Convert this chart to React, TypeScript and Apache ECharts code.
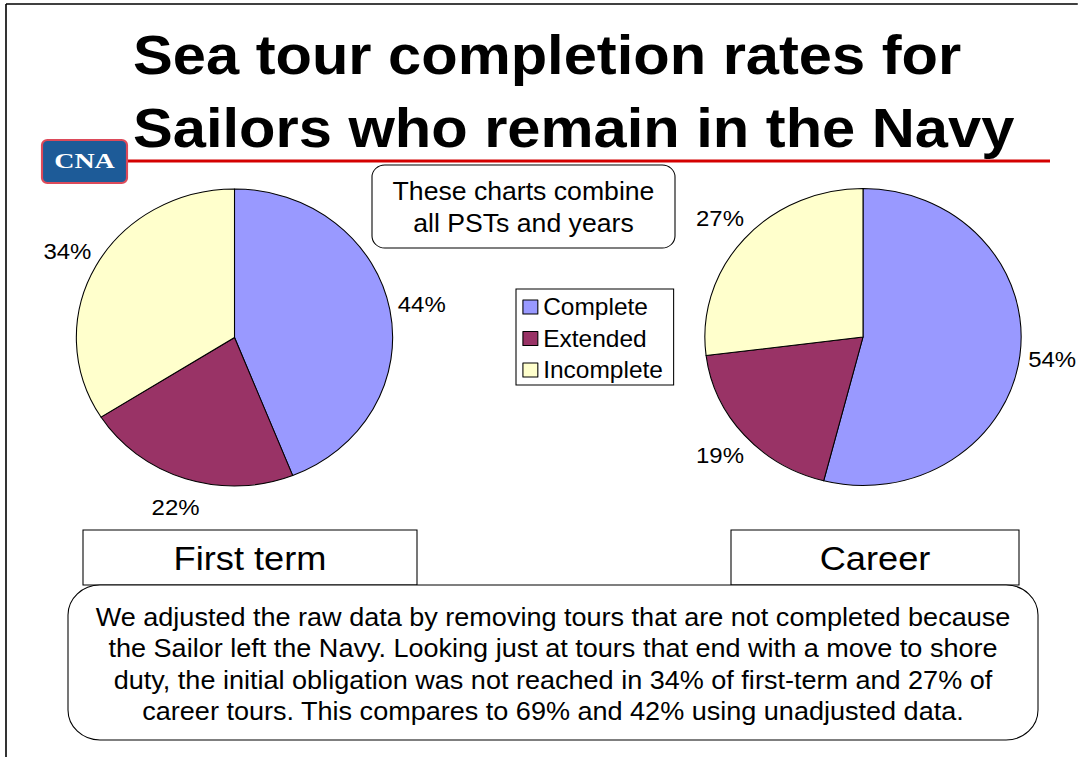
import React, { useEffect, useRef } from "react";
import * as echarts from "echarts";

const categories = ["Complete", "Extended", "Incomplete"];
const firstTermValues = [44, 22, 34];
const careerValues = [54, 19, 27];
const unadjustedIncomplete = [69, 42];
const groupTitles = ["First term", "Career"];
const sliceColors = ["#9999ff", "#993366", "#ffffcc"];

const W = 1078;
const H = 757;
const SX = 1.065; // horizontal stretch of the slide picture
const u = (x: number) => x / SX;
const FONT = '"Liberation Sans", Arial, Helvetica, sans-serif';

function pieSeries(values: number[], cx: number, cy: number) {
  const data = categories.map((name, i) => ({
    name,
    value: values[i],
    itemStyle: { color: sliceColors[i] },
  }));
  return [
    {
      type: "pie",
      center: [u(cx), cy],
      radius: 148.5,
      startAngle: 90,
      clockwise: true,
      silent: true,
      label: { show: false },
      labelLine: { show: false },
      emphasis: { disabled: true },
      itemStyle: { borderColor: "#000", borderWidth: 1 },
      data,
    },
    {
      type: "pie",
      center: [u(cx), cy],
      radius: [148.5, 203.5],
      startAngle: 90,
      clockwise: true,
      silent: true,
      emphasis: { disabled: true },
      itemStyle: { color: "rgba(0,0,0,0)", borderWidth: 0 },
      label: {
        show: true,
        position: "inside",
        formatter: "{c}%",
        color: "#000",
        fontSize: 22.5,
        fontFamily: FONT,
      },
      labelLine: { show: false },
      data: categories.map((name, i) => ({
        name,
        value: values[i],
        itemStyle: { color: "rgba(0,0,0,0)" },
      })),
    },
  ];
}

export default function App() {
  const ref = useRef<HTMLDivElement>(null);

  useEffect(() => {
    document.body.style.margin = "0";
    const chart = echarts.init(ref.current!, undefined, { renderer: "svg" });

    const note =
      "We adjusted the raw data by removing tours that are not completed because\n" +
      "the Sailor left the Navy. Looking just at tours that end with a move to shore\n" +
      `duty, the initial obligation was not reached in ${firstTermValues[2]}% of first-term and ${careerValues[2]}% of\n` +
      `career tours. This compares to ${unadjustedIncomplete[0]}% and ${unadjustedIncomplete[1]}% using unadjusted data.`;

    chart.setOption({
      animation: false,
      backgroundColor: "#fff",
      textStyle: { fontFamily: FONT },
      legend: {
        orient: "vertical",
        left: u(516),
        top: 289,
        data: categories,
        selectedMode: false,
        icon: "rect",
        itemWidth: 14,
        itemHeight: 14,
        itemGap: 7.5,
        padding: [6, 10, 3, 6],
        borderColor: "#000",
        borderWidth: 1,
        itemStyle: { borderColor: "#000", borderWidth: 1 },
        textStyle: { fontSize: 23, color: "#000", fontFamily: FONT, lineHeight: 24 },
      },
      series: [
        ...pieSeries(firstTermValues, 234.5, 337.5),
        ...pieSeries(careerValues, 863, 337),
      ],
      graphic: [
        // slide border
        { type: "line", shape: { x1: u(6), y1: 4, x2: u(6), y2: H }, style: { stroke: "#000", lineWidth: 1.5 } },
        { type: "line", shape: { x1: u(6), y1: 4, x2: u(W), y2: 4 }, style: { stroke: "#000", lineWidth: 1.5 } },
        // title
        {
          type: "text",
          x: u(133),
          y: 55,
          style: {
            text: "Sea tour completion rates for",
            font: `bold 56px ${FONT}`,
            fill: "#000",
            align: "left",
            verticalAlign: "middle",
          },
        },
        {
          type: "text",
          x: u(133),
          y: 127.8,
          style: {
            text: "Sailors who remain in the Navy",
            font: `bold 56px ${FONT}`,
            fill: "#000",
            align: "left",
            verticalAlign: "middle",
          },
        },
        // red rule
        { type: "line", shape: { x1: u(128), y1: 161, x2: u(1050), y2: 161 }, style: { stroke: "#d40000", lineWidth: 3 } },
        // logo
        {
          type: "rect",
          shape: { x: u(42), y: 140, width: u(127) - u(42), height: 43, r: 5 },
          style: { fill: "#1d5b98", stroke: "#dc4a5a", lineWidth: 2 },
        },
        {
          type: "text",
          x: u(84.5),
          y: 161,
          scaleX: 1.25,
          style: {
            text: "CNA",
            font: 'bold 21px "Liberation Serif", "Times New Roman", serif',
            fill: "#fff",
            align: "center",
            verticalAlign: "middle",
          },
        },
        // note box
        {
          type: "rect",
          shape: { x: u(372), y: 165, width: u(675) - u(372), height: 83, r: 12 },
          style: { fill: "#fff", stroke: "#000", lineWidth: 1 },
        },
        {
          type: "text",
          x: u(523.5),
          y: 207.2,
          style: {
            text: "These charts combine\nall PSTs and years",
            font: `25px ${FONT}`,
            lineHeight: 32,
            fill: "#000",
            align: "center",
            verticalAlign: "middle",
          },
        },
        // group title boxes
        {
          type: "rect",
          shape: { x: u(83), y: 530, width: u(417) - u(83), height: 55 },
          style: { fill: "#fff", stroke: "#000", lineWidth: 1 },
        },
        {
          type: "text",
          x: u(250),
          y: 557.5,
          style: { text: groupTitles[0], font: `34px ${FONT}`, fill: "#000", align: "center", verticalAlign: "middle" },
        },
        {
          type: "rect",
          shape: { x: u(731), y: 530, width: u(1019) - u(731), height: 55 },
          style: { fill: "#fff", stroke: "#000", lineWidth: 1 },
        },
        {
          type: "text",
          x: u(875),
          y: 557.5,
          style: { text: groupTitles[1], font: `34px ${FONT}`, fill: "#000", align: "center", verticalAlign: "middle" },
        },
        // bottom explanatory box
        {
          type: "rect",
          shape: { x: u(68), y: 585, width: u(1038) - u(68), height: 155, r: 30 },
          style: { fill: "#fff", stroke: "#000", lineWidth: 1 },
        },
        {
          type: "text",
          x: u(553),
          y: 664.4,
          style: {
            text: note,
            font: `25.4px ${FONT}`,
            lineHeight: 31.3,
            fill: "#000",
            align: "center",
            verticalAlign: "middle",
          },
        },
      ],
    });

    return () => chart.dispose();
  }, []);

  return (
    <div style={{ position: "fixed", left: 0, top: 0, width: W, height: H, overflow: "hidden", background: "#fff" }}>
      <div
        ref={ref}
        style={{ width: W / SX, height: H, transform: `scaleX(${SX})`, transformOrigin: "0 0" }}
      />
    </div>
  );
}
